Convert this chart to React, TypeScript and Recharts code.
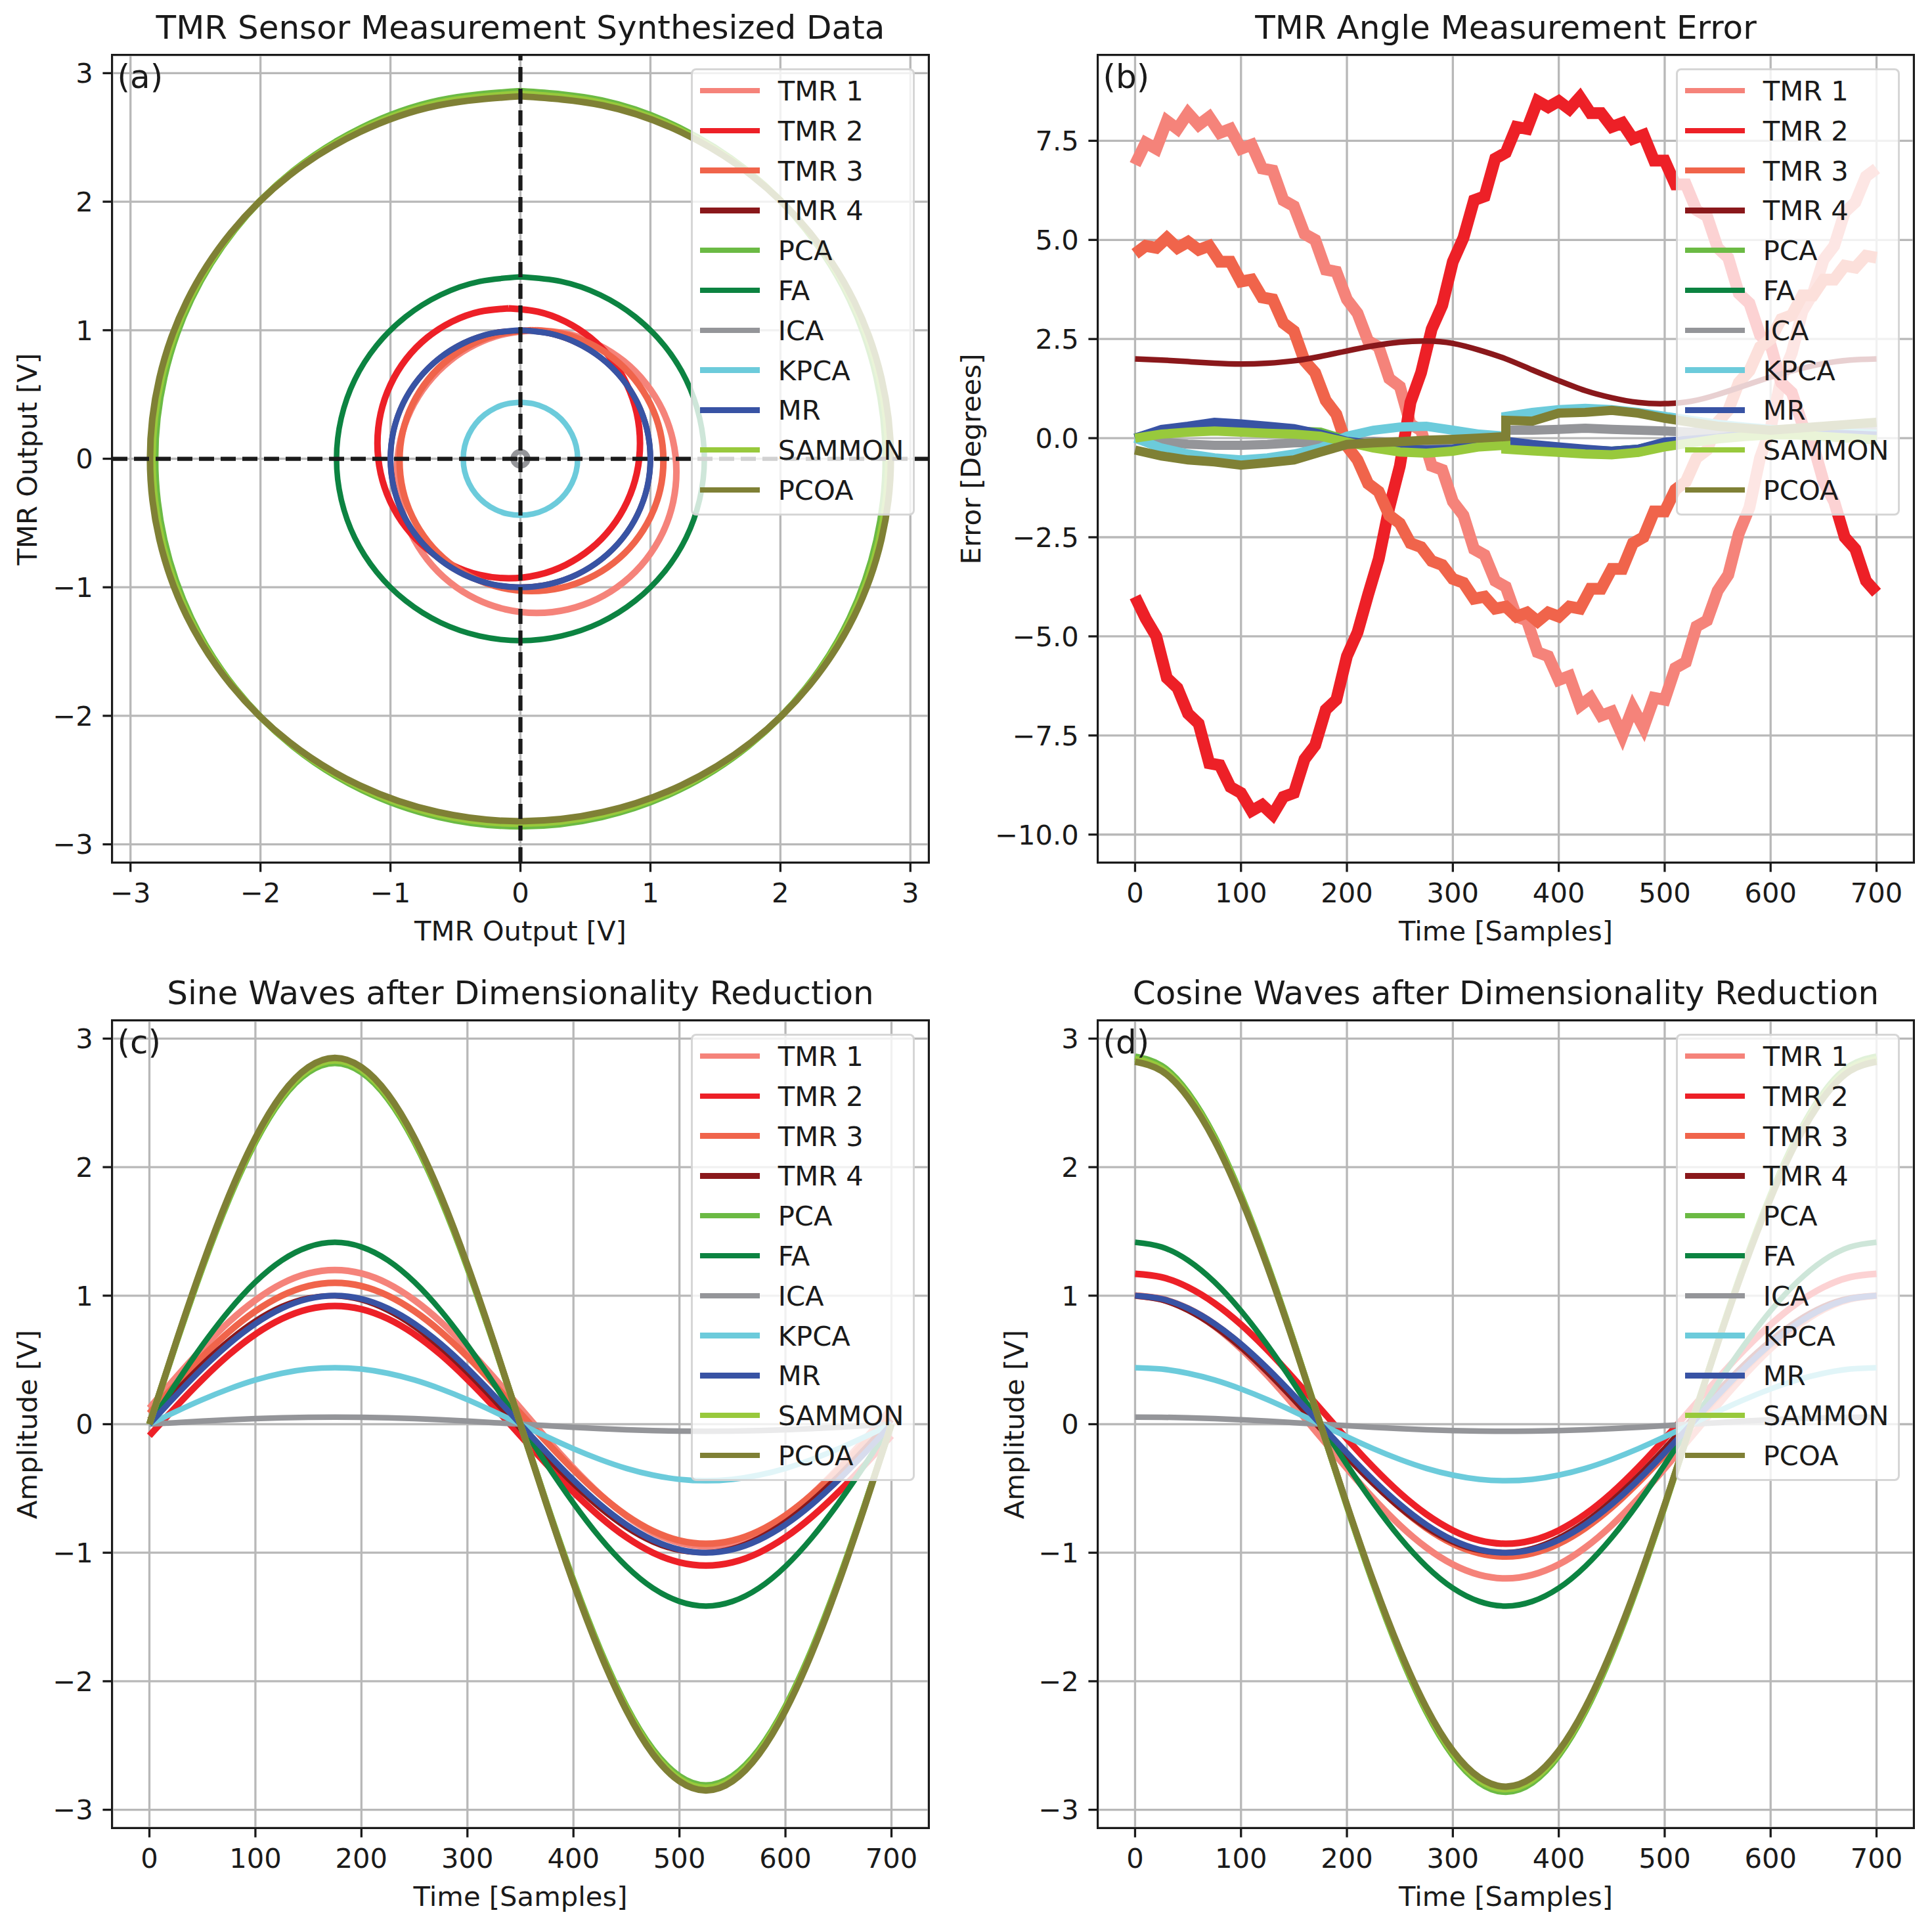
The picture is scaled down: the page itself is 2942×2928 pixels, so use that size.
import React from 'react';
import { LineChart, Line, XAxis, YAxis, CartesianGrid, ReferenceLine } from 'recharts';

// ---------- labels / colours ----------
const seriesNames = ['TMR 1', 'TMR 2', 'TMR 3', 'TMR 4', 'PCA', 'FA', 'ICA', 'KPCA', 'MR', 'SAMMON', 'PCOA'];
const seriesColors = ['#F5837A', '#ED2027', '#F0644B', '#8A181B', '#6BBA44', '#0C8341', '#949599', '#6CCBDB', '#3853A4', '#98C93C', '#7F8035'];

// ---------- time grids ----------
const T25 = [0, 25, 50, 75, 100, 125, 150, 175, 200, 225, 250, 275, 300, 325, 350, 375, 400, 425, 450, 475, 500, 525, 550, 575, 600, 625, 650, 675, 700];
const T10 = [0, 10, 20, 30, 40, 50, 60, 70, 80, 90, 100, 110, 120, 130, 140, 150, 160, 170, 180, 190, 200, 210, 220, 230, 240, 250, 260, 270, 280, 290, 300, 310, 320, 330, 340, 350, 360, 370, 380, 390, 400, 410, 420, 430, 440, 450, 460, 470, 480, 490, 500, 510, 520, 530, 540, 550, 560, 570, 580, 590, 600, 610, 620, 630, 640, 650, 660, 670, 680, 690, 700];
const TJ = [0, 25, 50, 75, 100, 125, 150, 175, 200, 225, 250, 275, 300, 325, 350, 350, 375, 400, 425, 450, 475, 500, 525, 550, 575, 600, 625, 650, 675, 700];

// ---------- (c) sine waves (values at T25) ----------
const sinTMR1 = [0.125, 0.364, 0.591, 0.795, 0.965, 1.094, 1.173, 1.2, 1.173, 1.094, 0.965, 0.795, 0.591, 0.364, 0.125, -0.114, -0.341, -0.545, -0.715, -0.844, -0.923, -0.95, -0.923, -0.844, -0.715, -0.545, -0.341, -0.114, 0.125];
const sinTMR2 = [-0.09, 0.135, 0.348, 0.54, 0.7, 0.82, 0.895, 0.92, 0.895, 0.82, 0.7, 0.54, 0.348, 0.135, -0.09, -0.315, -0.528, -0.72, -0.88, -1.0, -1.075, -1.1, -1.075, -1.0, -0.88, -0.72, -0.528, -0.315, -0.09];
const sinTMR3 = [0.085, 0.311, 0.525, 0.718, 0.879, 1.0, 1.075, 1.1, 1.075, 1.0, 0.879, 0.718, 0.525, 0.311, 0.085, -0.141, -0.355, -0.548, -0.709, -0.83, -0.905, -0.93, -0.905, -0.83, -0.709, -0.548, -0.355, -0.141, 0.085];
const sinTMR4 = [0.035, 0.256, 0.465, 0.65, 0.803, 0.916, 0.982, 0.999, 0.967, 0.885, 0.76, 0.596, 0.402, 0.188, -0.035, -0.256, -0.465, -0.65, -0.803, -0.916, -0.982, -0.999, -0.967, -0.885, -0.76, -0.596, -0.402, -0.188, 0.035];
const sinPCA = [0, 0.625, 1.219, 1.752, 2.197, 2.532, 2.739, 2.81, 2.739, 2.532, 2.197, 1.752, 1.219, 0.625, 0, -0.625, -1.219, -1.752, -2.197, -2.532, -2.739, -2.81, -2.739, -2.532, -2.197, -1.752, -1.219, -0.625, 0];
const sinFA = [0, 0.315, 0.614, 0.882, 1.106, 1.275, 1.379, 1.415, 1.379, 1.275, 1.106, 0.882, 0.614, 0.315, 0, -0.315, -0.614, -0.882, -1.106, -1.275, -1.379, -1.415, -1.379, -1.275, -1.106, -0.882, -0.614, -0.315, 0];
const sinICA = [0, 0.012, 0.024, 0.034, 0.043, 0.05, 0.054, 0.055, 0.054, 0.05, 0.043, 0.034, 0.024, 0.012, 0, -0.012, -0.024, -0.034, -0.043, -0.05, -0.054, -0.055, -0.054, -0.05, -0.043, -0.034, -0.024, -0.012, 0];
const sinKPCA = [0, 0.098, 0.191, 0.274, 0.344, 0.396, 0.429, 0.44, 0.429, 0.396, 0.344, 0.274, 0.191, 0.098, 0, -0.098, -0.191, -0.274, -0.344, -0.396, -0.429, -0.44, -0.429, -0.396, -0.344, -0.274, -0.191, -0.098, 0];
const sinMR = [0, 0.2225, 0.4339, 0.6235, 0.7818, 0.901, 0.9749, 1, 0.9749, 0.901, 0.7818, 0.6235, 0.4339, 0.2225, 0, -0.2225, -0.4339, -0.6235, -0.7818, -0.901, -0.9749, -1, -0.9749, -0.901, -0.7818, -0.6235, -0.4339, -0.2225, 0];
const sinSAMMON = [0, 0.63, 1.228, 1.765, 2.212, 2.55, 2.759, 2.83, 2.759, 2.55, 2.212, 1.765, 1.228, 0.63, 0, -0.63, -1.228, -1.765, -2.212, -2.55, -2.759, -2.83, -2.759, -2.55, -2.212, -1.765, -1.228, -0.63, 0];
const sinPCOA = [0, 0.634, 1.237, 1.777, 2.228, 2.568, 2.778, 2.85, 2.778, 2.568, 2.228, 1.777, 1.237, 0.634, 0, -0.634, -1.237, -1.777, -2.228, -2.568, -2.778, -2.85, -2.778, -2.568, -2.228, -1.777, -1.237, -0.634, 0];

// ---------- (d) cosine waves (values at T25) ----------
const cosTMR1 = [1.0, 0.972, 0.891, 0.76, 0.586, 0.377, 0.145, -0.1, -0.345, -0.577, -0.786, -0.96, -1.091, -1.172, -1.2, -1.172, -1.091, -0.96, -0.786, -0.577, -0.345, -0.1, 0.145, 0.377, 0.586, 0.76, 0.891, 0.972, 1.0];
const cosTMR2 = [1.17, 1.144, 1.066, 0.941, 0.775, 0.576, 0.354, 0.12, -0.114, -0.336, -0.535, -0.701, -0.826, -0.904, -0.93, -0.904, -0.826, -0.701, -0.535, -0.336, -0.114, 0.12, 0.354, 0.576, 0.775, 0.941, 1.066, 1.144, 1.17];
const cosTMR3 = [1.0, 0.975, 0.9, 0.779, 0.618, 0.425, 0.211, -0.015, -0.241, -0.455, -0.648, -0.809, -0.93, -1.005, -1.03, -1.005, -0.93, -0.809, -0.648, -0.455, -0.241, -0.015, 0.211, 0.425, 0.618, 0.779, 0.9, 0.975, 1.0];
const cosTMR4 = [0.999, 0.967, 0.885, 0.76, 0.596, 0.402, 0.188, -0.035, -0.256, -0.465, -0.65, -0.803, -0.916, -0.982, -0.999, -0.967, -0.885, -0.76, -0.596, -0.402, -0.188, 0.035, 0.256, 0.465, 0.65, 0.803, 0.916, 0.982, 0.999];
const cosPCA = [2.86, 2.788, 2.577, 2.236, 1.783, 1.241, 0.636, 0, -0.636, -1.241, -1.783, -2.236, -2.577, -2.788, -2.86, -2.788, -2.577, -2.236, -1.783, -1.241, -0.636, 0, 0.636, 1.241, 1.783, 2.236, 2.577, 2.788, 2.86];
const cosFA = [1.415, 1.379, 1.275, 1.106, 0.882, 0.614, 0.315, 0, -0.315, -0.614, -0.882, -1.106, -1.275, -1.379, -1.415, -1.379, -1.275, -1.106, -0.882, -0.614, -0.315, 0, 0.315, 0.614, 0.882, 1.106, 1.275, 1.379, 1.415];
const cosICA = [0.055, 0.054, 0.05, 0.043, 0.034, 0.024, 0.012, 0, -0.012, -0.024, -0.034, -0.043, -0.05, -0.054, -0.055, -0.054, -0.05, -0.043, -0.034, -0.024, -0.012, 0, 0.012, 0.024, 0.034, 0.043, 0.05, 0.054, 0.055];
const cosKPCA = [0.44, 0.429, 0.396, 0.344, 0.274, 0.191, 0.098, 0, -0.098, -0.191, -0.274, -0.344, -0.396, -0.429, -0.44, -0.429, -0.396, -0.344, -0.274, -0.191, -0.098, 0, 0.098, 0.191, 0.274, 0.344, 0.396, 0.429, 0.44];
const cosMR = [1, 0.9749, 0.901, 0.7818, 0.6235, 0.4339, 0.2225, 0, -0.2225, -0.4339, -0.6235, -0.7818, -0.901, -0.9749, -1, -0.9749, -0.901, -0.7818, -0.6235, -0.4339, -0.2225, 0, 0.2225, 0.4339, 0.6235, 0.7818, 0.901, 0.9749, 1];
const cosSAMMON = [2.84, 2.769, 2.559, 2.22, 1.771, 1.232, 0.632, 0, -0.632, -1.232, -1.771, -2.22, -2.559, -2.769, -2.84, -2.769, -2.559, -2.22, -1.771, -1.232, -0.632, 0, 0.632, 1.232, 1.771, 2.22, 2.559, 2.769, 2.84];
const cosPCOA = [2.82, 2.749, 2.541, 2.205, 1.758, 1.224, 0.627, 0, -0.627, -1.224, -1.758, -2.205, -2.541, -2.749, -2.82, -2.749, -2.541, -2.205, -1.758, -1.224, -0.627, 0, 0.627, 1.224, 1.758, 2.205, 2.541, 2.749, 2.82];

// ---------- (b) angle error ----------
const errTMR1 = [6.9, 7.45, 7.3, 8.0, 7.8, 8.2, 7.9, 8.1, 7.7, 7.8, 7.3, 7.4, 6.8, 6.75, 6.0, 5.85, 5.15, 5.0, 4.25, 4.2, 3.5, 3.15, 2.45, 2.3, 1.5, 1.3, 0.35, 0.2, -0.7, -0.8, -1.6, -1.95, -2.8, -2.95, -3.6, -3.75, -4.5, -4.6, -5.4, -5.5, -6.1, -6.0, -6.75, -6.55, -7.0, -6.9, -7.5, -6.8, -7.3, -6.55, -6.6, -5.8, -5.65, -4.75, -4.6, -3.85, -3.45, -2.4, -1.75, -0.5, 0.25, 1.5, 2.15, 3.2, 3.65, 4.5, 4.85, 5.7, 5.95, 6.6, 6.8];
const errTMR2 = [-4.0, -4.55, -5.0, -6.05, -6.3, -6.95, -7.2, -8.2, -8.25, -8.8, -8.95, -9.4, -9.25, -9.5, -9.05, -8.95, -8.1, -7.75, -6.85, -6.6, -5.5, -4.9, -3.95, -3.05, -1.75, -0.7, 0.9, 1.65, 2.75, 3.35, 4.45, 5.05, 6.0, 6.1, 7.05, 7.2, 7.85, 7.8, 8.5, 8.35, 8.5, 8.3, 8.6, 8.2, 8.2, 7.85, 7.95, 7.55, 7.65, 7.0, 7.0, 6.4, 6.4, 5.75, 5.6, 4.8, 4.55, 3.65, 3.4, 2.6, 2.35, 1.4, 1.15, 0.35, -0.15, -1.1, -1.6, -2.5, -2.8, -3.6, -3.9];
const errTMR3 = [4.65, 4.85, 4.8, 5.05, 4.8, 4.95, 4.75, 4.85, 4.45, 4.45, 3.95, 4.0, 3.55, 3.5, 2.9, 2.7, 1.95, 1.65, 0.95, 0.6, -0.2, -0.55, -1.15, -1.35, -1.95, -2.15, -2.65, -2.75, -3.1, -3.2, -3.55, -3.65, -4.05, -4.0, -4.3, -4.25, -4.5, -4.4, -4.62, -4.4, -4.5, -4.25, -4.3, -3.8, -3.8, -3.3, -3.3, -2.65, -2.5, -1.85, -1.85, -1.3, -1.1, -0.5, -0.3, 0.4, 0.7, 1.4, 1.7, 2.3, 2.5, 3.0, 3.1, 3.6, 3.6, 4.0, 4.0, 4.35, 4.3, 4.6, 4.55];
const errTMR4 = [2.0, 1.97, 1.93, 1.89, 1.87, 1.89, 1.95, 2.06, 2.2, 2.33, 2.42, 2.45, 2.39, 2.22, 2.0, 1.72, 1.45, 1.2, 1.02, 0.9, 0.87, 0.93, 1.1, 1.32, 1.54, 1.73, 1.88, 1.97, 2.0];
const errPCA = [0, 0.15, 0.22, 0.25, 0.22, 0.2, 0.18, 0.15, -0.05, -0.2, -0.3, -0.35, -0.3, -0.2, -0.15, -0.25, -0.3, -0.35, -0.38, -0.4, -0.35, -0.2, -0.1, 0.0, 0.05, 0.1, 0.1, 0.05, 0.0, -0.05];
const errFA = [0, 0.2, 0.28, 0.35, 0.32, 0.27, 0.2, 0.08, -0.08, -0.15, -0.25, -0.28, -0.26, -0.12, -0.05, -0.1, -0.18, -0.25, -0.3, -0.33, -0.28, -0.12, -0.05, 0.02, 0.08, 0.1, 0.1, 0.08, 0.05, 0.02];
const errICA = [0, -0.1, -0.15, -0.18, -0.18, -0.16, -0.12, -0.1, -0.1, -0.08, -0.12, -0.15, -0.12, -0.08, -0.05, 0.2, 0.2, 0.22, 0.25, 0.22, 0.2, 0.18, 0.15, 0.15, 0.12, 0.12, 0.15, 0.2, 0.25, 0.3];
const errKPCA = [0, -0.25, -0.4, -0.5, -0.55, -0.5, -0.4, -0.25, 0.05, 0.2, 0.28, 0.3, 0.2, 0.1, 0.05, 0.55, 0.65, 0.72, 0.75, 0.72, 0.65, 0.55, 0.45, 0.35, 0.28, 0.22, 0.18, 0.15, 0.12, 0.1];
const errMR = [0, 0.22, 0.3, 0.4, 0.36, 0.3, 0.24, 0.1, -0.08, -0.16, -0.27, -0.3, -0.28, -0.1, -0.02, -0.08, -0.16, -0.22, -0.28, -0.33, -0.28, -0.1, -0.05, 0.0, 0.08, 0.12, 0.12, 0.1, 0.08, 0.05];
const errSAMMON = [0, 0.1, 0.15, 0.18, 0.15, 0.12, 0.1, 0.05, -0.1, -0.25, -0.35, -0.38, -0.33, -0.22, -0.18, -0.28, -0.32, -0.36, -0.4, -0.42, -0.36, -0.22, -0.12, -0.02, 0.04, 0.08, 0.08, 0.04, 0.0, -0.04];
const errPCOA = [-0.3, -0.45, -0.55, -0.6, -0.68, -0.62, -0.55, -0.35, -0.16, -0.12, -0.09, -0.05, -0.03, 0.0, 0.04, 0.45, 0.43, 0.63, 0.65, 0.7, 0.63, 0.5, 0.4, 0.3, 0.25, 0.2, 0.25, 0.3, 0.35, 0.4];

// ---------- ticks ----------
const ticksVolt = [-3, -2, -1, 0, 1, 2, 3];
const ticksTime = [0, 100, 200, 300, 400, 500, 600, 700];
const ticksErr = [-10, -7.5, -5, -2.5, 0, 2.5, 5, 7.5];

// ---------- derived tables ----------
const sineSeries = [sinTMR1, sinTMR2, sinTMR3, sinTMR4, sinPCA, sinFA, sinICA, sinKPCA, sinMR, sinSAMMON, sinPCOA];
const cosSeries = [cosTMR1, cosTMR2, cosTMR3, cosTMR4, cosPCA, cosFA, cosICA, cosKPCA, cosMR, cosSAMMON, cosPCOA];
const errSeries = [errTMR1, errTMR2, errTMR3, errTMR4, errPCA, errFA, errICA, errKPCA, errMR, errSAMMON, errPCOA];
const errTimes = [T10, T10, T10, T25, TJ, TJ, TJ, TJ, TJ, TJ, TJ];

const rowsSine = T25.map((t, k) => {
  const r: any = { t };
  sineSeries.forEach((a, i) => { r['s' + i] = a[k]; });
  return r;
});
const rowsCos = T25.map((t, k) => {
  const r: any = { t };
  cosSeries.forEach((a, i) => { r['s' + i] = a[k]; });
  return r;
});
const loops = sineSeries.map((a, i) => a.map((x, k) => ({ x, y: cosSeries[i][k] })));
const errData = errSeries.map((a, i) => a.map((v, k) => ({ t: errTimes[i][k], v })));

// ---------- styling ----------
const FONT = '"DejaVu Sans", Verdana, sans-serif';
const INK = '#1a1a1a';
const FS = 41.7;
const widthsSmooth = [10, 10, 10, 8.5, 10, 8.5, 8.5, 8.5, 9, 10, 10];
const widthsErr = [18, 18, 18, 8.5, 14, 14, 14, 14, 14, 14, 14];

const minus = (s: string) => s.replace('-', '\u2212');
const fmtInt = (v: number) => minus(String(v));
const fmt1 = (v: number) => minus(v.toFixed(1));

const COLS = [{ ax: 171, w: 1243, chart: 0 }, { ax: 1672, w: 1242, chart: 1460 }];
const ROWS = [{ ax: 84, chart: 0 }, { ax: 1554, chart: 1470 }];
const PH = 1229;
const XH = 80;
const MR_ = 20;

function Legend({ axRight, axTop }: { axRight: number; axTop: number }) {
  const w = 341;
  const h = 681;
  return (
    <div style={{ position: 'absolute', left: axRight - 21 - w, top: axTop + 20, width: w, height: h, boxSizing: 'border-box', background: 'rgba(255,255,255,0.8)', border: '3.3px solid rgba(204,204,204,0.8)', borderRadius: 8 }}>
      {seriesNames.map((n, i) => {
        const cy = 34.3 + i * 60.8 - 3.3;
        return (
          <React.Fragment key={n}>
            <div style={{ position: 'absolute', left: 14 - 3.3, top: cy - 4.25, width: 91, height: 8.5, background: seriesColors[i] }} />
            <div style={{ position: 'absolute', left: 133 - 3.3, top: cy - 0.48 * FS, fontSize: FS, lineHeight: 1, color: INK, whiteSpace: 'nowrap', fontFamily: FONT }}>{n}</div>
          </React.Fragment>
        );
      })}
    </div>
  );
}

type PanelCfg = {
  col: number; row: number; title: string; xLabel: string; yLabel: string; yLabelX: number; tag: string;
  xKey: string; xDomain: [number, number]; xTicks: number[]; yDomain: [number, number]; yTicks: number[];
  xFmt: (v: number) => string; yFmt: (v: number) => string; body: React.ReactNode[]; data?: any[];
};

function Panel(c: PanelCfg) {
  const col = COLS[c.col];
  const row = ROWS[c.row];
  const yW = col.ax - col.chart;
  const mTop = row.ax - row.chart;
  const W = yW + col.w + MR_;
  const H = mTop + PH + XH;
  const axRight = col.ax + col.w;
  const axBottom = row.ax + PH;
  const cx = col.ax + col.w / 2;
  const tickStyle = { fill: INK, fontSize: FS, fontFamily: FONT };
  const lineStyle = { stroke: INK, strokeWidth: 3.3 };
  return (
    <React.Fragment>
      <div style={{ position: 'absolute', left: col.chart, top: row.chart, width: W, height: H }}>
        <LineChart width={W} height={H} data={c.data} margin={{ top: mTop, right: MR_, bottom: 0, left: 0 }}>
          <CartesianGrid stroke="#b8b8b8" strokeWidth={3.3} />
          <XAxis type="number" dataKey={c.xKey} domain={c.xDomain} ticks={c.xTicks} interval={0} allowDataOverflow height={XH}
            tickSize={14.6} tickMargin={16.5} axisLine={false} tickLine={lineStyle} tick={tickStyle} tickFormatter={c.xFmt} />
          <YAxis type="number" domain={c.yDomain} ticks={c.yTicks} interval={0} allowDataOverflow width={yW}
            tickSize={14.6} tickMargin={14.5} axisLine={false} tickLine={lineStyle} tick={tickStyle} tickFormatter={c.yFmt} />
          {c.body}
        </LineChart>
      </div>
      <div style={{ position: 'absolute', left: col.ax - 1.65, top: row.ax - 1.65, width: col.w + 3.3, height: PH + 3.3, boxSizing: 'border-box', border: `3.3px solid ${INK}`, pointerEvents: 'none' }} />
      <Legend axRight={axRight} axTop={row.ax} />
      <div style={{ position: 'absolute', left: cx, top: row.ax - 25 - 0.846 * 50, transform: 'translateX(-50%)', fontSize: 50, lineHeight: 1, whiteSpace: 'nowrap', color: INK, fontFamily: FONT }}>{c.title}</div>
      <div style={{ position: 'absolute', left: cx, top: axBottom + 119 - 0.846 * FS, transform: 'translateX(-50%)', fontSize: FS, lineHeight: 1, whiteSpace: 'nowrap', color: INK, fontFamily: FONT }}>{c.xLabel}</div>
      <div style={{ position: 'absolute', left: c.yLabelX, top: row.ax + PH / 2, transform: 'translate(-50%, -50%) rotate(-90deg)', fontSize: FS, lineHeight: 1, whiteSpace: 'nowrap', color: INK, fontFamily: FONT }}>{c.yLabel}</div>
      <div style={{ position: 'absolute', left: col.ax + 7.5, top: row.ax + 8.2, fontSize: 50, lineHeight: 1, whiteSpace: 'nowrap', color: INK, fontFamily: FONT }}>{c.tag}</div>
    </React.Fragment>
  );
}

export default function App() {
  const loopLines = loops.map((pts, i) => (
    <Line key={'a' + i} data={pts} dataKey="y" name={seriesNames[i]} type="natural" stroke={seriesColors[i]} strokeWidth={widthsSmooth[i]}
      dot={false} activeDot={false} isAnimationActive={false} strokeLinejoin="round" />
  ));
  const aBody = [
    ...loopLines,
    <ReferenceLine key="rx" x={0} stroke={INK} strokeWidth={6.25} strokeDasharray="23 10" />,
    <ReferenceLine key="ry" y={0} stroke={INK} strokeWidth={6.25} strokeDasharray="23 10" />,
  ];
  const bBody = errData.map((pts, i) => (
    <Line key={'b' + i} data={pts} dataKey="v" name={seriesNames[i]} type={i === 3 ? 'natural' : 'linear'} stroke={seriesColors[i]} strokeWidth={widthsErr[i]}
      dot={false} activeDot={false} isAnimationActive={false} strokeLinejoin="miter" />
  ));
  const waveLines = (p: string) => seriesNames.map((n, i) => (
    <Line key={p + i} dataKey={'s' + i} name={n} type="natural" stroke={seriesColors[i]} strokeWidth={widthsSmooth[i]}
      dot={false} activeDot={false} isAnimationActive={false} strokeLinejoin="round" />
  ));

  return (
    <div style={{ position: 'absolute', left: 0, top: 0, width: 2942, height: 2928, background: '#ffffff', fontFamily: FONT, overflow: 'hidden' }}>
      <Panel col={0} row={0} title="TMR Sensor Measurement Synthesized Data" xLabel="TMR Output [V]" yLabel="TMR Output [V]" yLabelX={42} tag="(a)"
        xKey="x" xDomain={[-3.14, 3.14]} xTicks={ticksVolt} yDomain={[-3.14, 3.14]} yTicks={ticksVolt} xFmt={fmtInt} yFmt={fmtInt} body={aBody} />
      <Panel col={1} row={0} title="TMR Angle Measurement Error" xLabel="Time [Samples]" yLabel="Error [Degrees]" yLabelX={1479} tag="(b)"
        xKey="t" xDomain={[-35, 735]} xTicks={ticksTime} yDomain={[-10.7, 9.66]} yTicks={ticksErr} xFmt={fmtInt} yFmt={fmt1} body={bBody} />
      <Panel col={0} row={1} title="Sine Waves after Dimensionality Reduction" xLabel="Time [Samples]" yLabel="Amplitude [V]" yLabelX={42} tag="(c)"
        xKey="t" xDomain={[-35, 735]} xTicks={ticksTime} yDomain={[-3.14, 3.14]} yTicks={ticksVolt} xFmt={fmtInt} yFmt={fmtInt} body={waveLines('c')} data={rowsSine} />
      <Panel col={1} row={1} title="Cosine Waves after Dimensionality Reduction" xLabel="Time [Samples]" yLabel="Amplitude [V]" yLabelX={1545} tag="(d)"
        xKey="t" xDomain={[-35, 735]} xTicks={ticksTime} yDomain={[-3.14, 3.14]} yTicks={ticksVolt} xFmt={fmtInt} yFmt={fmtInt} body={waveLines('d')} data={rowsCos} />
    </div>
  );
}
